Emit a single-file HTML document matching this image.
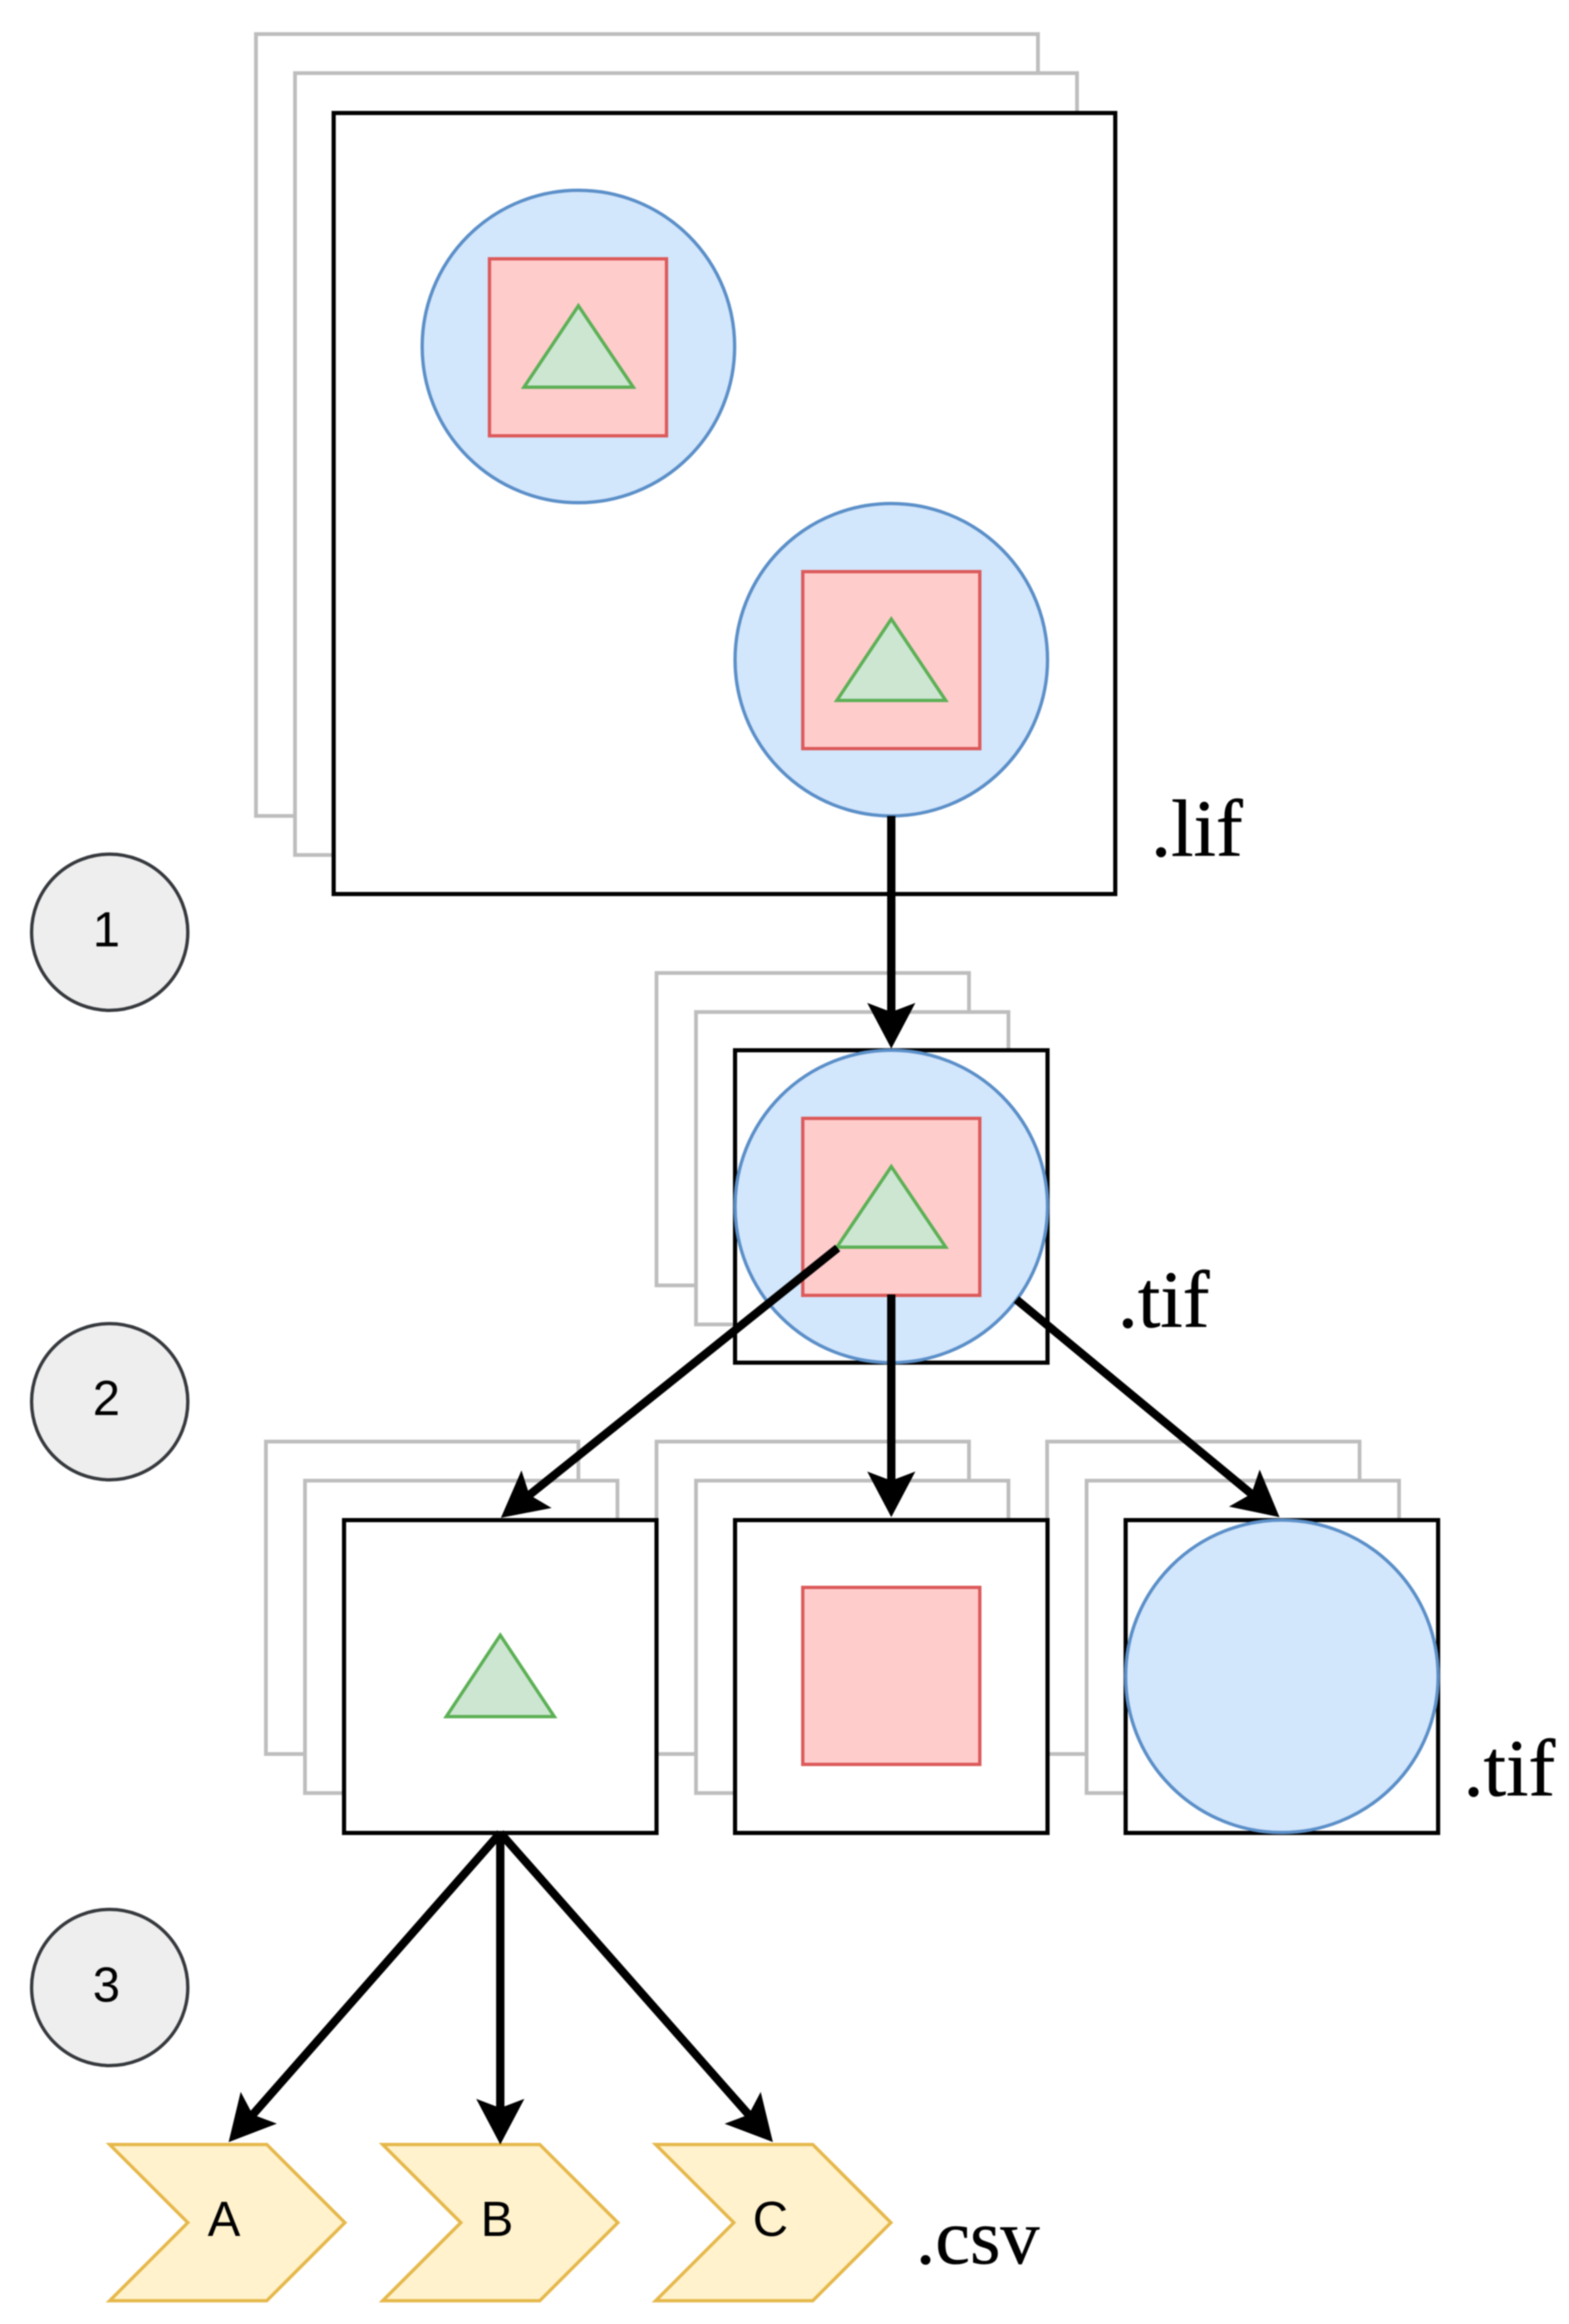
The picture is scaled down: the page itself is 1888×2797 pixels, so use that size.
<!DOCTYPE html>
<html>
<head>
<meta charset="utf-8">
<style>
html,body{margin:0;padding:0;background:#fff;}
svg{display:block;filter:blur(0.7px);}
.g{fill:#fff;stroke:#bdbdbd;stroke-width:4.5;}
.k{fill:#fff;stroke:#000;stroke-width:5;}
.c{fill:#d2e6fc;stroke:#5b8fc8;stroke-width:4;}
.r{fill:#ffcccc;stroke:#dc5a5a;stroke-width:4;}
.t{fill:#cde6d2;stroke:#5cb055;stroke-width:4;}
.y{fill:#fff2cc;stroke:#e6b84c;stroke-width:4;}
.n{fill:#eeeeee;stroke:#36393d;stroke-width:4;}
.s{font-family:"Liberation Sans",sans-serif;font-size:59px;fill:#000;text-anchor:middle;}
.l{font-family:"Liberation Serif",serif;font-size:97px;fill:#000;stroke:#000;stroke-width:0.6;}
.a line{stroke:#000;stroke-width:10;}
.a path{fill:#000;}
</style>
</head>
<body>
<svg xmlns="http://www.w3.org/2000/svg" width="1888" height="2797" viewBox="0 0 1888 2797">
<rect width="1888" height="2797" fill="#fff"/>

<!-- lif stack -->
<rect class="g" x="308" y="41" width="941" height="941"/>
<rect class="g" x="355" y="88" width="941" height="941"/>
<rect class="k" x="401.5" y="136" width="940.5" height="940"/>
<circle class="c" cx="696" cy="417" r="188"/>
<rect class="r" x="589" y="311.5" width="213" height="213"/>
<path class="t" d="M696 368 L762 466 L630.5 466 Z"/>
<circle class="c" cx="1072.5" cy="794" r="188"/>
<rect class="r" x="966" y="688" width="213" height="213"/>
<path class="t" d="M1072.5 745 L1138 843 L1007 843 Z"/>

<!-- tif stack -->
<rect class="g" x="790" y="1171" width="376" height="376"/>
<rect class="g" x="837.5" y="1218" width="376" height="376"/>
<rect class="k" x="884.5" y="1264" width="376" height="376"/>
<circle class="c" cx="1072.5" cy="1452" r="188"/>
<rect class="r" x="966" y="1346" width="213" height="213"/>
<path class="t" d="M1072.5 1404 L1138 1501 L1007 1501 Z"/>

<!-- row 3 gray -->
<rect class="g" x="320" y="1735" width="376" height="376"/>
<rect class="g" x="367" y="1782" width="376" height="376"/>
<rect class="g" x="790" y="1735" width="376" height="376"/>
<rect class="g" x="837.5" y="1782" width="376" height="376"/>
<rect class="g" x="1260" y="1735" width="376" height="376"/>
<rect class="g" x="1307.5" y="1782" width="376" height="376"/>

<!-- row 3 -->
<rect class="k" x="414" y="1829.5" width="376" height="376.5"/>
<path class="t" d="M602 1968 L667 2066 L537 2066 Z"/>
<rect class="k" x="884.5" y="1829.5" width="376" height="376.5"/>
<rect class="r" x="966" y="1910.5" width="213" height="213"/>
<rect class="k" x="1354.5" y="1829.5" width="376" height="376.5"/>
<circle class="c" cx="1542.5" cy="2017.5" r="188"/>

<!-- numbered circles -->
<circle class="n" cx="132" cy="1122" r="94"/>
<text class="s" x="128" y="1139">1</text>
<circle class="n" cx="132" cy="1687" r="94"/>
<text class="s" x="128" y="1703">2</text>
<circle class="n" cx="132" cy="2392" r="94"/>
<text class="s" x="128" y="2409">3</text>

<!-- chevrons -->
<path class="y" d="M132 2581 L321 2581 L415 2675 L321 2769 L132 2769 L226 2675 Z"/>
<text class="s" x="269.5" y="2691">A</text>
<path class="y" d="M460.5 2581 L649.5 2581 L743.5 2675 L649.5 2769 L460.5 2769 L554.5 2675 Z"/>
<text class="s" x="598" y="2691">B</text>
<path class="y" d="M789 2581 L978 2581 L1072 2675 L978 2769 L789 2769 L883 2675 Z"/>
<text class="s" x="927" y="2691">C</text>

<!-- arrows -->
<g class="a" transform="translate(1072.5 982) rotate(90)"><line x1="0" y1="0" x2="238" y2="0"/><path d="M280 0 L225 -29 L236 0 L225 29 Z"/></g>
<g class="a" transform="translate(1008 1502) rotate(141.3)"><line x1="0" y1="0" x2="477" y2="0"/><path d="M519.3 0 L464.3 -29 L475.3 0 L464.3 29 Z"/></g>
<g class="a" transform="translate(1072.5 1558) rotate(90)"><line x1="0" y1="0" x2="226" y2="0"/><path d="M268 0 L213 -29 L224 0 L213 29 Z"/></g>
<g class="a" transform="translate(1223 1564) rotate(39.6)"><line x1="0" y1="0" x2="369" y2="0"/><path d="M411 0 L356 -29 L367 0 L356 29 Z"/></g>
<g class="a" transform="translate(602 2206) rotate(131.3)"><line x1="0" y1="0" x2="453" y2="0"/><path d="M495.3 0 L440.3 -29 L451.3 0 L440.3 29 Z"/></g>
<g class="a" transform="translate(602 2206) rotate(90)"><line x1="0" y1="0" x2="333" y2="0"/><path d="M375 0 L320 -29 L331 0 L320 29 Z"/></g>
<g class="a" transform="translate(602 2206) rotate(48.6)"><line x1="0" y1="0" x2="454" y2="0"/><path d="M496 0 L441 -29 L452 0 L441 29 Z"/></g>

<!-- labels -->
<text class="l" x="1385" y="1030">.lif</text>
<text class="l" x="1345" y="1597">.tif</text>
<text class="l" x="1761" y="2161">.tif</text>
<text class="l" x="1102" y="2724" style="font-size:94px">.csv</text>
</svg>
</body>
</html>
